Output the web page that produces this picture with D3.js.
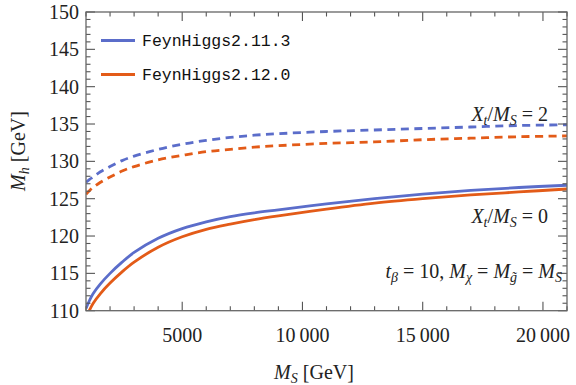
<html lang="en">
<head>
<meta charset="UTF-8">
<title>Mh vs MS</title>
<script src="https://cdn.jsdelivr.net/npm/d3@7"></script>
<style>
  body{ margin:0; background:#fff; }
  .tick-label{ font-family:"Liberation Serif", "DejaVu Serif", serif; font-size:20px; fill:#222; }
  .math{ font-family:"Liberation Serif", "DejaVu Serif", serif; font-size:20px; fill:#222; }
  .legend{ font-family:"Liberation Mono", "DejaVu Sans Mono", monospace; font-size:16.5px; fill:#111; }
  .curve{ fill:none; stroke-width:2.8px; }
  .dash{ stroke-dasharray:8 5.5; }
</style>
</head>
<body>
<svg id="svg"></svg>
<script>
var WIDTH = 576, HEIGHT = 385;
var LEFT = 86, RIGHT = 567, TOP = 12, BOTTOM = 310.7;

// data
var ms       = [1000, 1150, 1300, 1600, 2000, 2500, 3000, 4000, 5000, 6000, 7000, 8000, 9000, 11000, 13000, 15000, 17000, 19000, 21000];
var fh211_x0 = [110.3, 111.4, 112.3, 113.6, 115.0, 116.5, 117.8, 119.7, 121.0, 121.9, 122.6, 123.1, 123.5, 124.3, 125.0, 125.6, 126.1, 126.5, 126.8];
var fh212_x0 = [109.0, 110.1, 111.0, 112.3, 113.7, 115.2, 116.5, 118.5, 119.9, 120.9, 121.6, 122.2, 122.7, 123.6, 124.4, 125.0, 125.5, 125.9, 126.3];
var fh211_x2 = [127.2, 127.6, 127.9, 128.6, 129.3, 130.1, 130.7, 131.6, 132.3, 132.8, 133.2, 133.5, 133.7, 134.0, 134.2, 134.4, 134.6, 134.8, 134.9];
var fh212_x2 = [125.6, 126.1, 126.5, 127.2, 127.9, 128.7, 129.3, 130.2, 130.8, 131.3, 131.6, 131.9, 132.1, 132.4, 132.6, 132.9, 133.1, 133.3, 133.4];

var xTicks = [5000, 10000, 15000, 20000];
var xTickLabels = ["5000", "10\u2009000", "15\u2009000", "20\u2009000"];
var yTicks = [110, 115, 120, 125, 130, 135, 140, 145, 150];

var legendNames = ["FeynHiggs2.11.3", "FeynHiggs2.12.0"];
var BLUE = "#5b6dca", ORANGE = "#e35b18";

var svg = d3.select("#svg").attr("width", WIDTH).attr("height", HEIGHT);

var xScale = d3.scaleLinear().domain([1000, 21000]).range([LEFT, RIGHT]);
var yScale = d3.scaleLinear().domain([110, 150]).range([BOTTOM, TOP]);

svg.append("clipPath").attr("id", "plotArea")
   .append("rect")
   .attr("x", LEFT).attr("y", TOP)
   .attr("width", RIGHT - LEFT).attr("height", BOTTOM - TOP);

// curves
var series = [
  {v: fh211_x2, c: BLUE, dash: true},
  {v: fh212_x2, c: ORANGE, dash: true},
  {v: fh211_x0, c: BLUE, dash: false},
  {v: fh212_x0, c: ORANGE, dash: false}
];
var line = d3.line()
             .x(function(d){ return xScale(d[0]); })
             .y(function(d){ return yScale(d[1]); })
             .curve(d3.curveCatmullRom.alpha(0.5));

svg.append("g").attr("clip-path", "url(#plotArea)")
   .selectAll("path")
   .data(series)
   .enter()
   .append("path")
   .attr("class", function(d){ return d.dash ? "curve dash" : "curve"; })
   .attr("stroke", function(d){ return d.c; })
   .attr("d", function(d){ return line(ms.map(function(m, i){ return [m, d.v[i]]; })); });

// frame + ticks (inward on all four sides)
var frame = svg.append("g");
var minorX = d3.range(1000, 21001, 1000);
var minorY = d3.range(110, 151, 1);

function tickLen(isMajor){ return isMajor ? 9 : 4.5; }

minorX.forEach(function(v){
  var major = v % 5000 === 0;
  var x = xScale(v);
  frame.append("line").attr("x1", x).attr("x2", x)
       .attr("y1", BOTTOM).attr("y2", BOTTOM - tickLen(major));
  frame.append("line").attr("x1", x).attr("x2", x)
       .attr("y1", TOP).attr("y2", TOP + tickLen(major));
});
minorY.forEach(function(v){
  var major = v % 5 === 0;
  var y = yScale(v);
  frame.append("line").attr("x1", LEFT).attr("x2", LEFT + tickLen(major))
       .attr("y1", y).attr("y2", y);
  frame.append("line").attr("x1", RIGHT).attr("x2", RIGHT - tickLen(major))
       .attr("y1", y).attr("y2", y);
});
frame.selectAll("line").attr("stroke", "#555").attr("stroke-width", 1.1);

frame.append("rect")
     .attr("x", LEFT).attr("y", TOP)
     .attr("width", RIGHT - LEFT).attr("height", BOTTOM - TOP)
     .attr("fill", "none").attr("stroke", "#666").attr("stroke-width", 1.3);

// tick labels
svg.selectAll(".xlab")
   .data(xTicks)
   .enter()
   .append("text")
   .attr("class", "tick-label xlab")
   .attr("x", function(d){ return xScale(d); })
   .attr("y", 342)
   .attr("text-anchor", "middle")
   .text(function(d, i){ return xTickLabels[i]; });

svg.selectAll(".ylab")
   .data(yTicks)
   .enter()
   .append("text")
   .attr("class", "tick-label ylab")
   .attr("x", 79)
   .attr("y", function(d){ return yScale(d) + 7; })
   .attr("text-anchor", "end")
   .text(function(d){ return d; });

// axis titles
var xt = svg.append("text").attr("class", "math").attr("x", 314).attr("y", 379).attr("text-anchor", "middle");
xt.append("tspan").attr("font-style", "italic").text("M");
xt.append("tspan").attr("font-style", "italic").attr("font-size", 14).attr("dy", 4).text("S");
xt.append("tspan").attr("dy", -4).text(" [GeV]");

var yt = svg.append("text").attr("class", "math")
            .attr("transform", "translate(25,151) rotate(-90)")
            .attr("text-anchor", "middle");
yt.append("tspan").attr("font-style", "italic").text("M");
yt.append("tspan").attr("font-style", "italic").attr("font-size", 14).attr("dy", 4).text("h");
yt.append("tspan").attr("dy", -4).text(" [GeV]");

// annotations
function xtms(x, y, val){
  var t = svg.append("text").attr("class", "math").attr("x", x).attr("y", y).attr("text-anchor", "end");
  t.append("tspan").attr("font-style", "italic").text("X");
  t.append("tspan").attr("font-style", "italic").attr("font-size", 14).attr("dy", 4).text("t");
  t.append("tspan").attr("dy", -4).text("/");
  t.append("tspan").attr("font-style", "italic").text("M");
  t.append("tspan").attr("font-style", "italic").attr("font-size", 14).attr("dy", 4).text("S");
  t.append("tspan").attr("dy", -4).text(" = " + val);
}
xtms(548, 121, 2);
xtms(548, 223, 0);

var p = svg.append("text").attr("class", "math").attr("x", 562).attr("y", 278).attr("text-anchor", "end");
p.append("tspan").attr("font-style", "italic").text("t");
p.append("tspan").attr("font-style", "italic").attr("font-size", 14).attr("dy", 4).text("\u03b2");
p.append("tspan").attr("dy", -4).text(" = 10, ");
p.append("tspan").attr("font-style", "italic").text("M");
p.append("tspan").attr("font-style", "italic").attr("font-size", 14).attr("dy", 4).text("\u03c7");
p.append("tspan").attr("dy", -4).text(" = ");
p.append("tspan").attr("font-style", "italic").text("M");
p.append("tspan").attr("font-style", "italic").attr("font-size", 14).attr("dy", 4).text("g\u0303");
p.append("tspan").attr("dy", -4).text(" = ");
p.append("tspan").attr("font-style", "italic").text("M");
p.append("tspan").attr("font-style", "italic").attr("font-size", 14).attr("dy", 4).text("S");

// legend
var legend = svg.selectAll(".leg")
   .data(legendNames)
   .enter()
   .append("g")
   .attr("class", "leg")
   .attr("transform", function(d, i){ return "translate(0," + (40.5 + i * 34) + ")"; });
legend.append("line")
      .attr("x1", 101).attr("x2", 135).attr("y1", 0).attr("y2", 0)
      .attr("stroke", function(d, i){ return i === 0 ? BLUE : ORANGE; })
      .attr("stroke-width", 3);
legend.append("text")
      .attr("class", "legend")
      .attr("x", 142).attr("y", 5)
      .text(function(d){ return d; });
</script>
</body>
</html>
